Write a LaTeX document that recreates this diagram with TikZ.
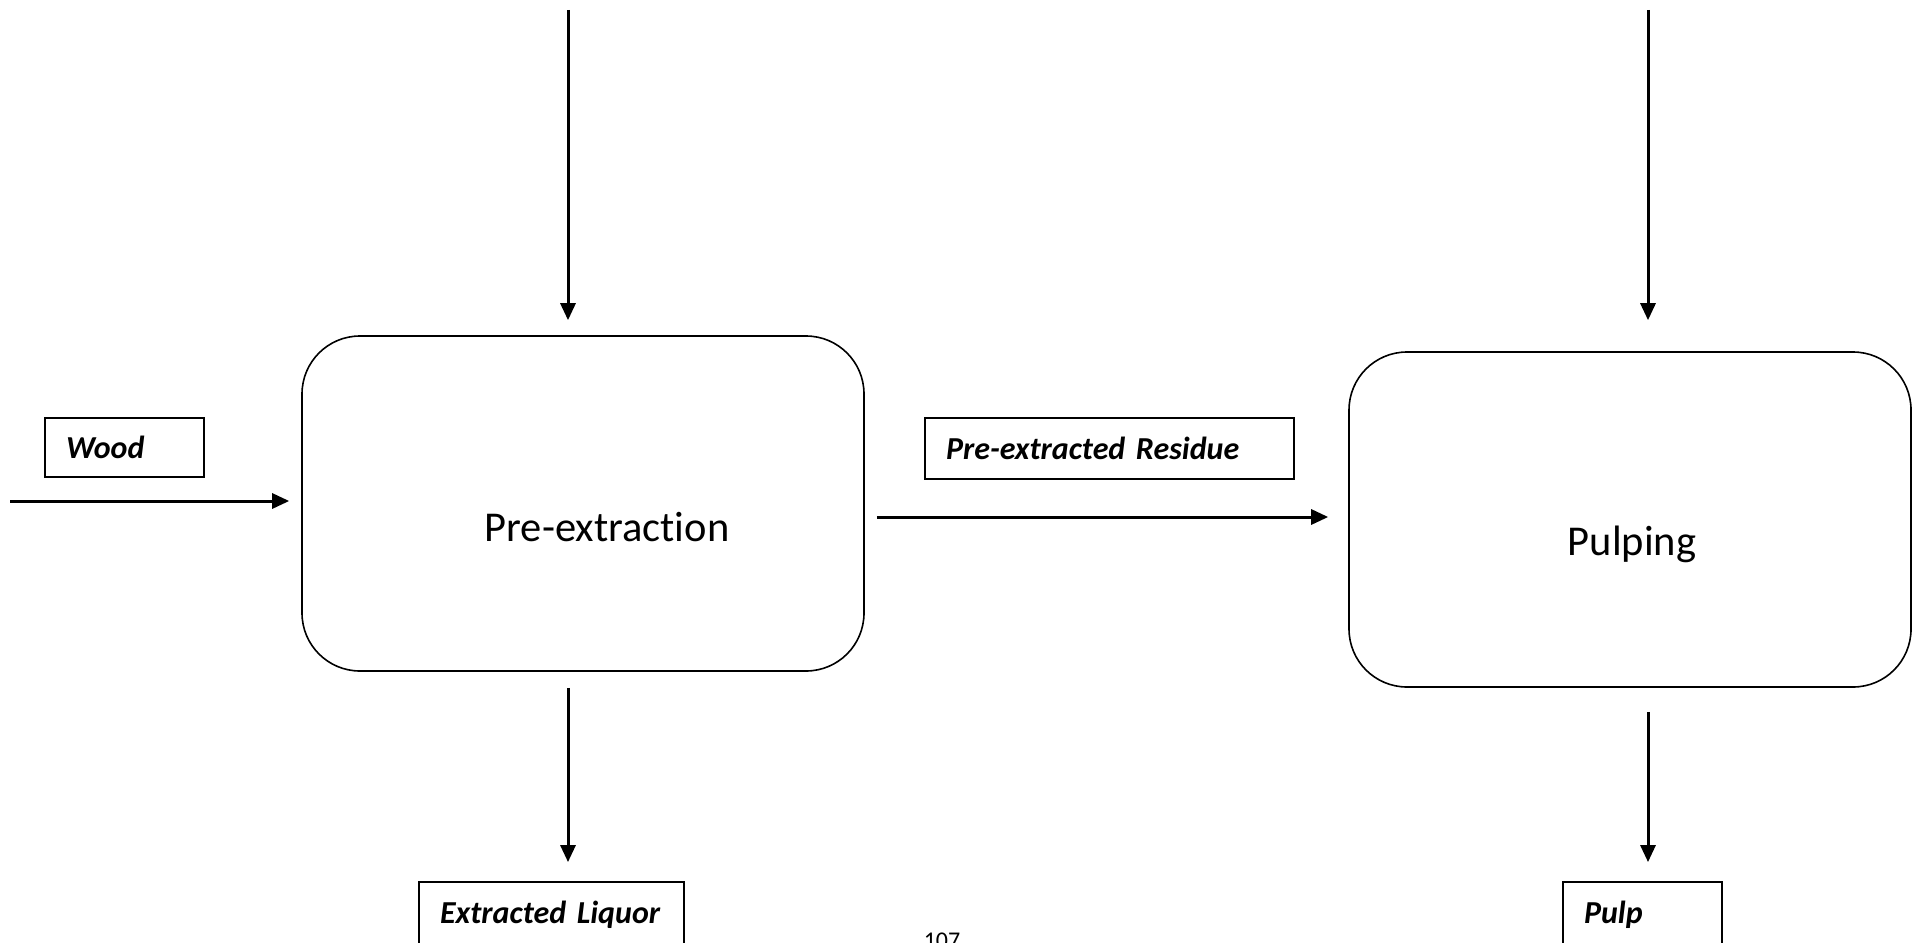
\documentclass[tikz,border=0pt]{standalone}
\usepackage{fontspec}
\setmainfont{Carlito}[Ligatures={NoCommon}]
\usetikzlibrary{arrows.meta}
\begin{document}
\begin{tikzpicture}[x=1pt,y=-1pt,
  proc/.style={draw, line width=1.6pt, rounded corners=58pt, minimum width=562pt, minimum height=335pt, inner sep=0pt},
  lbl/.style={draw, line width=1.8pt, inner xsep=21pt, inner ysep=0pt, align=left,
    font=\fontsize{32}{36}\selectfont\bfseries\itshape},
  arr/.style={line width=3pt, -{Triangle[length=17pt,width=15pt]}},
  proctext/.style={font=\fontsize{42.5}{50}\selectfont, inner sep=0pt}]
\useasboundingbox (0,0) rectangle (1916,942);
\clip (0,0) rectangle (1916,942);
% process boxes
\node[proc] (pre) at (583,503.5) {};
\node[proc] (pulp) at (1630,519.5) {};
\node[proctext] (pretext) at (607,527) {Pre-extraction};
\node[proctext] (pulptext) at (1632,544) {Pulping};
% label boxes
\node[lbl, text width=117pt, minimum height=59pt] (wood) at (124.5,447.5) {Wood};
\node[lbl, text width=327pt, minimum height=61pt] (resid) at (1109.5,448.5) {Pre-extracted Residue};
\node[lbl, text width=223pt, minimum height=66pt] (liquor) at (551.5,915) {Extracted Liquor};
\node[lbl, text width=117pt, minimum height=66pt] (pulpout) at (1642.5,915) {Pulp};
\node[font=\fontsize{24}{28}\selectfont, inner sep=0pt, anchor=north] (page) at (942,933) {107};
% free ends
\coordinate (woodin) at (10,501);
\coordinate (topA) at (568,10);
\coordinate (topB) at (1648,10);
% connectors
\draw[arr] (woodin) -- ([xshift=-12pt]pre.west |- woodin);
\draw[arr] (topA) -- ([yshift=15pt]pre.north -| topA);
\draw[arr] ([yshift=-16pt]pre.south -| topA) -- ([yshift=19pt]liquor.north -| topA);
\draw[arr] ([xshift=12pt]pre.east |- 0,517) -- ([xshift=-20pt]pulp.west |- 0,517);
\draw[arr] (topB) -- ([yshift=31pt]pulp.north -| topB);
\draw[arr] ([yshift=-24pt]pulp.south -| topB) -- ([yshift=19pt]pulpout.north -| topB);
\end{tikzpicture}
\end{document}
